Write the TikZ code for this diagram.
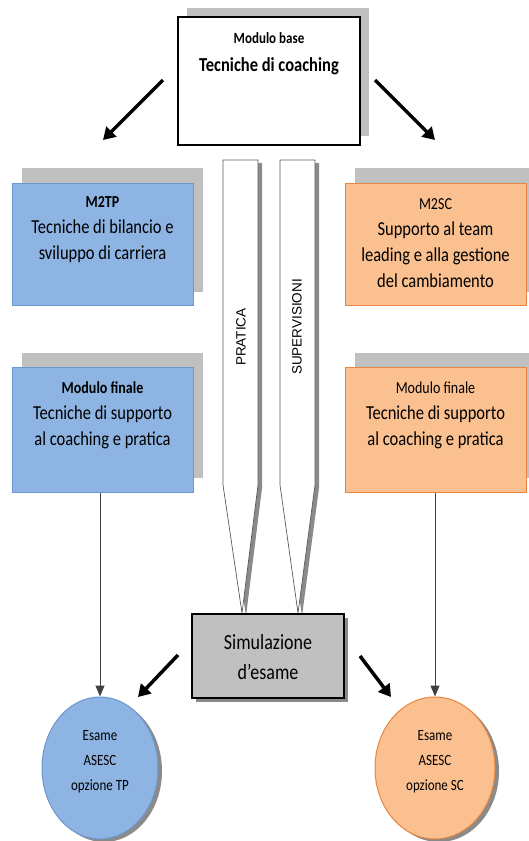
\documentclass[tikz,border=0pt]{standalone}
\usepackage{fontspec}
\setmainfont{Carlito}
\newfontfamily\arialf{Liberation Sans}
\usetikzlibrary{arrows.meta,shapes.geometric}
\newcommand{\vstr}[1]{\scalebox{1}[1.2]{#1}}
\definecolor{bluefill}{HTML}{8DB4E2}
\definecolor{blueline}{HTML}{6A98CF}
\definecolor{orfill}{HTML}{FAC090}
\definecolor{orline}{HTML}{E8853F}
\definecolor{shadowgray}{HTML}{C0C0C0}
\definecolor{darkshadow}{HTML}{8A8A8A}
\begin{document}
\begin{tikzpicture}[x=1pt,y=-1pt,
  bluebox/.style={draw=blueline,fill=bluefill,line width=1pt,minimum width=181pt,minimum height=122pt,inner sep=0pt},
  orbox/.style={draw=orline,fill=orfill,line width=1pt,minimum width=181pt,minimum height=122pt,inner sep=0pt},
  boxtext/.style={align=center,font=\fontsize{16.5}{26}\selectfont,inner sep=0pt},
  circtext/.style={align=center,font=\fontsize{13}{25}\selectfont,inner sep=0pt},
  thickarrow/.style={line width=3.5pt,-{Triangle[length=12pt,width=14pt]}},
  thinarrow/.style={draw={rgb,255:red,64;green,64;blue,64},line width=1pt,-{Triangle[length=11pt,width=9pt]}},
  pencil/.style={draw={rgb,255:red,90;green,90;blue,90},fill=white,line width=0.7pt},
  pencilshadow/.style={fill=darkshadow,draw=none},
  pentext/.style={font=\arialf\fontsize{13.5}{16}\selectfont,rotate=90,inner sep=0pt}]
\useasboundingbox (0,0) rectangle (529,841);

% ---- shadows ----
\fill[shadowgray] (187,8) rectangle (369,136);
\fill[shadowgray] (22,168) rectangle (203,292);
\fill[shadowgray] (355,168) rectangle (536,292);
\fill[shadowgray] (22,353) rectangle (203,478);
\fill[shadowgray] (355,353) rectangle (536,478);

% ---- top box ----
\node[draw=black,fill=white,line width=2.5pt,minimum width=182pt,minimum height=128pt,inner sep=0pt] (base) at (269,81) {};
\node[boxtext] (baseT) at (269,54) {\vstr{\fontsize{13}{16}\selectfont\bfseries Modulo base}\\[2pt]\vstr{\bfseries Tecniche di coaching}};

% ---- blue boxes ----
\node[bluebox] (m2tp) at (102.5,244) {};
\node[boxtext] (m2tpT) at (102.5,230) {\vstr{\fontsize{14}{16}\selectfont\bfseries M2TP}\\\vstr{Tecniche di bilancio e}\\\vstr{sviluppo di carriera}};
\node[bluebox,minimum height=125pt] (finL) at (102.5,429.5) {};
\node[boxtext] (finLT) at (102.5,415) {\vstr{\fontsize{14}{16}\selectfont\bfseries Modulo finale}\\\vstr{Tecniche di supporto}\\\vstr{al coaching e pratica}};

% ---- orange boxes ----
\node[orbox] (m2sc) at (435.5,244) {};
\node[boxtext] (m2scT) at (435.5,243) {\vstr{\fontsize{14}{16}\selectfont M2SC}\\\vstr{Supporto al team}\\\vstr{leading e alla gestione}\\\vstr{del cambiamento}};
\node[orbox,minimum height=125pt] (finR) at (435.5,429.5) {};
\node[boxtext] (finRT) at (435.5,415) {\vstr{\fontsize{14}{16}\selectfont Modulo finale}\\\vstr{Tecniche di supporto}\\\vstr{al coaching e pratica}};

% ---- pencils ----
\fill[pencilshadow] (227,163) -- (262,163) -- (262,488) -- (246,616) -- (227,488) -- cycle;
\draw[pencil] (223,160) -- (258,160) -- (258,485) -- (242,613) -- (223,485) -- cycle;
\fill[pencilshadow] (284,163) -- (319,163) -- (319,488) -- (302,616) -- (284,488) -- cycle;
\draw[pencil] (280,160) -- (315,160) -- (315,485) -- (298,613) -- (280,485) -- cycle;
\node[pentext] (pratica) at (241,337) {PRATICA};
\node[pentext] (superv) at (297,327) {SUPERVISIONI};

% ---- simulazione ----
\fill[darkshadow] (196,618) rectangle (348,702);
\node[draw=black,fill=shadowgray,line width=2pt,minimum width=152pt,minimum height=84pt,inner sep=0pt] (sim) at (268,656) {};
\node[boxtext,font=\fontsize{18}{30}\selectfont] (simT) at (268,657) {\vstr{Simulazione}\\\vstr{d’esame}};

% ---- exams ----
\fill[darkshadow] (104,771) ellipse [x radius=58pt, y radius=71pt];
\node[ellipse,draw=blueline,fill=bluefill,line width=1pt,minimum width=116pt,minimum height=142pt,inner sep=0pt] (esL) at (100,768) {};
\node[circtext] (esLT) at (100,762) {\vstr{Esame}\\\vstr{ASESC}\\\vstr{opzione TP}};
\fill[darkshadow] (439,771) ellipse [x radius=60pt, y radius=71pt];
\node[ellipse,draw=orline,fill=orfill,line width=1pt,minimum width=120pt,minimum height=142pt,inner sep=0pt] (esR) at (435,768) {};
\node[circtext] (esRT) at (435,762) {\vstr{Esame}\\\vstr{ASESC}\\\vstr{opzione SC}};

% ---- arrows ----
\coordinate (a1s) at (163,80);
\coordinate (a1e) at (103,140);
\coordinate (a2s) at (375,80);
\coordinate (a2e) at (435,140);
\coordinate (a3s) at (178,655);
\coordinate (a3e) at (138,697);
\coordinate (a4s) at (360,656);
\coordinate (a4e) at (391,697);
\draw[thickarrow] (a1s) -- (a1e);
\draw[thickarrow] (a2s) -- (a2e);
\draw[thickarrow] (a3s) -- (a3e);
\draw[thickarrow] (a4s) -- (a4e);
\draw[thinarrow] (finL.south -| esL.north) -- (esL.north);
\draw[thinarrow] (finR.south -| esR.north) -- (esR.north);
\end{tikzpicture}
\end{document}
